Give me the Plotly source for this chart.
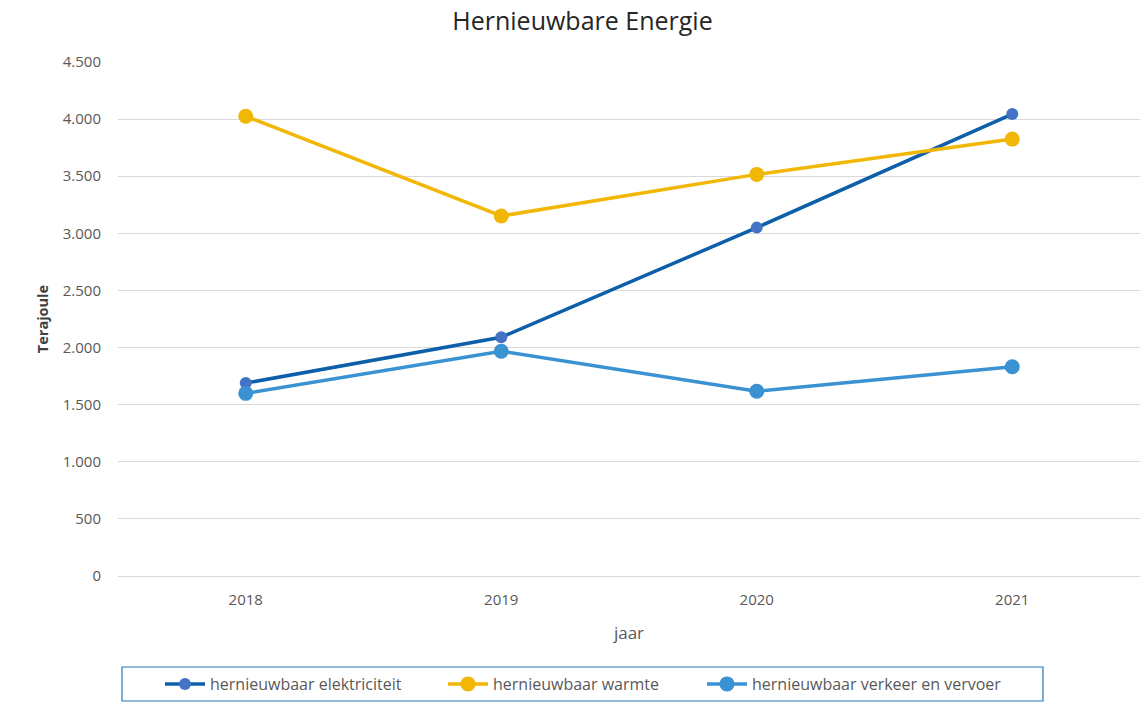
import plotly.graph_objects as go

years = ["2018", "2019", "2020", "2021"]
elektriciteit = [1689, 2090, 3050, 4044]
warmte = [4025, 3152, 3516, 3825]
verkeer = [1599, 1968, 1618, 1832]

series_names = ["hernieuwbaar elektriciteit", "hernieuwbaar warmte", "hernieuwbaar verkeer en vervoer"]
y_ticks = [0, 500, 1000, 1500, 2000, 2500, 3000, 3500, 4000, 4500]

FONT = "'Open Sans', sans-serif"

fig = go.Figure()
fig.add_trace(go.Scatter(
    x=years, y=elektriciteit, name=series_names[0], mode="lines+markers", legend="legend",
    line=dict(color="#0E5FAA", width=3.5),
    marker=dict(color="#4472C4", size=12)))
fig.add_trace(go.Scatter(
    x=years, y=warmte, name=series_names[1], mode="lines+markers", legend="legend2",
    line=dict(color="#F2B705", width=3.5),
    marker=dict(color="#F2B705", size=15)))
fig.add_trace(go.Scatter(
    x=years, y=verkeer, name=series_names[2], mode="lines+markers", legend="legend3",
    line=dict(color="#3A92D3", width=3.5),
    marker=dict(color="#3A92D3", size=15)))


def legend_at(xpx):
    return dict(orientation="h", xref="container", yref="container",
                x=xpx / 1148, xanchor="left", y=(708 - 684) / 708, yanchor="middle",
                itemwidth=40, font=dict(family=FONT, size=16, color="#595959"),
                bgcolor="rgba(0,0,0,0)", borderwidth=0)


fig.update_layout(
    width=1148, height=708,
    paper_bgcolor="white", plot_bgcolor="white",
    separators=",.",
    font=dict(family=FONT, color="#595959", size=14),
    title=dict(text="Hernieuwbare Energie", x=0.5074, xanchor="center",
               y=(708 - 21) / 708, yanchor="middle",
               font=dict(family=FONT, size=25, color="#262626")),
    margin=dict(l=118, r=8, t=62, b=132),
    showlegend=True,
    legend=legend_at(160),
    legend2=legend_at(443),
    legend3=legend_at(702),
    xaxis=dict(type="category", range=[-0.5, 3.5], showgrid=False, zeroline=False,
               showline=False, ticks="outside", ticklen=10, tickcolor="rgba(0,0,0,0)",
               tickfont=dict(size=15, color="#595959"), automargin=False,
               title=dict(text="jaar", font=dict(size=17, color="#595959"), standoff=19)),
    yaxis=dict(range=[0, 4500], tickvals=y_ticks, tickformat=",d", showgrid=True,
               gridcolor="#D9D9D9", gridwidth=1, zeroline=True, zerolinecolor="#D9D9D9",
               zerolinewidth=1, showline=False, ticks="outside", ticklen=13,
               tickcolor="rgba(0,0,0,0)", tickfont=dict(size=15, color="#595959"),
               automargin=False,
               title=dict(text="<b>Terajoule</b>", font=dict(size=14.5, color="#404040"), standoff=10)),
    shapes=[dict(type="rect", xref="paper", yref="paper",
                 x0=(122 - 118) / 1022, x1=(1043 - 118) / 1022,
                 y0=-(701 - 576) / 514, y1=-(667 - 576) / 514,
                 line=dict(color="#2E75B6", width=1.2), fillcolor="rgba(0,0,0,0)")],
)

fig.write_html("out.html", config={"displayModeBar": False},
               post_script="document.body.style.margin='0px';")
